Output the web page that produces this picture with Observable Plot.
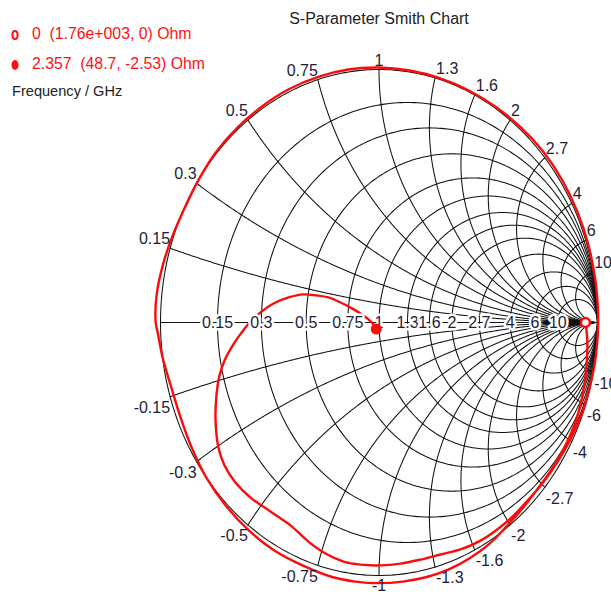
<!DOCTYPE html>
<html>
<head>
<meta charset="utf-8">
<script src="https://cdn.jsdelivr.net/npm/d3@7"></script>
<script src="https://cdn.jsdelivr.net/npm/@observablehq/plot@0.6"></script>
<style>
  html, body { margin: 0; padding: 0; background: #fff; overflow: hidden; }
  #wrap { position: relative; width: 611px; height: 595px; overflow: hidden; }
  #chart { position: absolute; left: 0; top: 0; }
  #title { position: absolute; left: 229px; width: 300px; top: 10px; line-height: 20px;
           text-align: center; font: 16px "Liberation Sans", Arial, sans-serif; color: #222; }
  .leg { position: absolute; left: 10px; height: 20px; line-height: 20px; white-space: pre;
         font: 15.8px "Liberation Sans", Arial, sans-serif; color: #ff1010; }
  .leg svg { position: absolute; left: 0; top: 4px; }
  .leg span { position: absolute; left: 22px; top: 0; }
  #note { position: absolute; left: 12px; top: 83px; line-height: 20px;
          font: 14.6px "Liberation Sans", Arial, sans-serif; color: #222; }
</style>
</head>
<body>
<div id="wrap">
  <div id="chart"></div>
  <div id="title"></div>
  <div class="leg" id="leg0" style="top:25px"></div>
  <div class="leg" id="leg1" style="top:55px"></div>
  <div id="note"></div>
</div>
<script>
// ---------- data ----------
const titleText = "S-Parameter Smith Chart";
const noteText = "Frequency / GHz";
const Z0 = 50;

// grid values (resistance circles and reactance arcs share these ticks)
const gridValues = [0.15, 0.3, 0.5, 0.75, 1, 1.3, 1.6, 2, 2.7, 4, 6, 10];
const gridLabels = ["0.15", "0.3", "0.5", "0.75", "1", "1.3", "1.6", "2", "2.7", "4", "6", "10"];

// markers: frequency (GHz), impedance (Ohm)
const markerFreq = ["0", "2.357"];
const markerR = [1760, 48.7];
const markerX = [0, -2.53];
const markerText = ["0  (1.76e+003, 0) Ohm", "2.357  (48.7, -2.53) Ohm"];

// S11 trace, reflection coefficient (real, imaginary)
const traceRe = [0.945, 0.953, 0.950, 0.932, 0.909, 0.875, 0.833, 0.783, 0.717, 0.659,
  0.585, 0.505, 0.415, 0.317, 0.214, 0.108, 0.000, -0.108, -0.214, -0.350,
  -0.479, -0.597, -0.700, -0.788, -0.857, -0.911, -0.951, -0.990, -1.014, -1.022,
  -1.018, -0.989, -0.944, -0.889, -0.829, -0.747, -0.647, -0.534, -0.411, -0.278,
  -0.141, 0.000, 0.140, 0.277, 0.409, 0.533, 0.648, 0.751, 0.837, 0.906,
  0.957, 0.989, 1.001, 1.003, 0.998, 0.985, 0.959, 0.923, 0.874, 0.817,
  0.752, 0.680, 0.616, 0.547, 0.465, 0.373, 0.281, 0.190, 0.098, 0.007,
  -0.085, -0.162, -0.245, -0.323, -0.405, -0.497, -0.588, -0.657, -0.707, -0.735,
  -0.748, -0.744, -0.730, -0.707, -0.670, -0.629, -0.588, -0.538, -0.483, -0.414,
  -0.346, -0.286, -0.231, -0.176, -0.130, -0.085, -0.048, -0.025, -0.0125];
const traceIm = [0, -0.067, -0.168, -0.285, -0.367, -0.446, -0.520, -0.590, -0.668, -0.732,
  -0.805, -0.875, -0.932, -0.977, -1.007, -1.024, -1.030, -1.024, -1.006, -0.960,
  -0.901, -0.821, -0.725, -0.616, -0.495, -0.368, -0.255, -0.139, -0.035, 0,
  0.107, 0.228, 0.344, 0.453, 0.559, 0.672, 0.771, 0.855, 0.923, 0.971,
  1.000, 1.008, 0.996, 0.966, 0.918, 0.853, 0.772, 0.676, 0.565, 0.442,
  0.311, 0.174, 0.070, 0, -0.087, -0.174, -0.275, -0.373, -0.465, -0.551,
  -0.631, -0.704, -0.763, -0.814, -0.862, -0.897, -0.917, -0.937, -0.953, -0.960,
  -0.957, -0.945, -0.913, -0.866, -0.802, -0.747, -0.692, -0.632, -0.565, -0.494,
  -0.387, -0.289, -0.209, -0.150, -0.091, -0.040, 0.004, 0.043, 0.075, 0.099,
  0.111, 0.107, 0.099, 0.079, 0.059, 0.036, 0.012, -0.008, -0.026];

// ---------- geometry helpers ----------
function gamma(r, x) { // normalized impedance -> reflection coefficient
  const d = (r + 1) ** 2 + x * x;
  return {re: (r * r - 1 + x * x) / d, im: 2 * x / d};
}

const grid = [];
function addResistance(r, id) {
  const c = r / (1 + r), R = 1 / (1 + r);
  for (let i = 0; i <= 360; i++) {
    const t = i * Math.PI / 180;
    grid.push({id, re: c + R * Math.cos(t), im: R * Math.sin(t)});
  }
}
addResistance(0, "r0");
gridValues.forEach(r => addResistance(r, "r" + r));
gridValues.forEach(x => [x, -x].forEach(xx => {
  const N = 500;
  for (let i = 0; i <= N; i++) {
    const u = i / N;
    const g = u < 1 ? gamma(u / (1 - u), xx) : {re: 1, im: 0};
    grid.push({id: "x" + xx, re: g.re, im: g.im});
  }
}));
grid.push({id: "axis", re: -1, im: 0}, {id: "axis", re: 1, im: 0});

const rLabelData = gridValues.map((r, i) => ({re: (r - 1) / (r + 1), im: 0, label: gridLabels[i]}));
const xLabelData = gridValues.flatMap((x, i) => [
  {x: x, ...gamma(0, x), label: gridLabels[i]},
  {x: -x, ...gamma(0, -x), label: "-" + gridLabels[i]}
]);

const trace = traceRe.map((re, i) => ({re, im: traceIm[i]}));
const markers = markerR.map((R, i) => {
  const g = gamma(R / Z0, markerX[i] / Z0);
  return {re: g.re, im: g.im, i};
});

const labelColor = "#1d1d3a";
const font = "Liberation Sans, Arial, sans-serif";
const lab = (data, opts) => Plot.text(data, {x: "re", y: "im", text: "label", fontSize: 16,
  fontFamily: font, fill: labelColor, ...opts});

const chart = Plot.plot({
  width: 611,
  height: 595,
  marginLeft: 160,
  marginRight: 14,
  marginTop: 69,
  marginBottom: 20,
  x: {domain: [-1, 1], axis: null},
  y: {domain: [-1, 1], axis: null},
  style: {background: "white", overflow: "hidden"},
  marks: [
    Plot.line(grid, {x: "re", y: "im", z: "id", stroke: "#111", strokeWidth: 1.05, curve: "linear"}),
    Plot.line(trace, {x: "re", y: "im", stroke: "#ff0a0a", strokeWidth: 2.4, curve: "catmull-rom"}),
    // resistance labels on the real axis
    lab(rLabelData, {textAnchor: "middle", lineAnchor: "middle", stroke: "white", strokeWidth: 5}),
    // reactance labels around the rim
    lab(xLabelData.filter(d => d.x > 0 && d.x < 1), {textAnchor: "end", lineAnchor: "bottom", dy: -4}),
    lab(xLabelData.filter(d => d.x === 1), {textAnchor: "middle", lineAnchor: "bottom", dy: -4}),
    lab(xLabelData.filter(d => d.x > 1), {textAnchor: "start", lineAnchor: "bottom", dy: -4, dx: 1}),
    lab(xLabelData.filter(d => d.x < 0 && d.x > -1), {textAnchor: "end", lineAnchor: "top", dy: 5}),
    lab(xLabelData.filter(d => d.x === -1), {textAnchor: "middle", lineAnchor: "top", dy: 4}),
    lab(xLabelData.filter(d => d.x < -1), {textAnchor: "start", lineAnchor: "top", dy: 5, dx: 1}),
    Plot.dot(markers.filter(d => d.i === 0), {x: "re", y: "im", r: 4.5, stroke: "#ff0a0a", fill: "white", strokeWidth: 2.5}),
    Plot.dot(markers.filter(d => d.i === 1), {x: "re", y: "im", r: 5.5, fill: "#ff0a0a", stroke: "none"})
  ]
});
document.getElementById("chart").appendChild(chart);

document.getElementById("title").textContent = titleText;
document.getElementById("note").textContent = noteText;
const icons = [
  '<svg width="12" height="14"><ellipse cx="5" cy="6" rx="2.6" ry="4" fill="white" stroke="#ff1010" stroke-width="2"/></svg>',
  '<svg width="12" height="14"><ellipse cx="5" cy="6" rx="3.5" ry="5" fill="#ff1010"/></svg>'
];
markerText.forEach((t, i) => {
  const el = document.getElementById("leg" + i);
  el.innerHTML = icons[i] + "<span></span>";
  el.querySelector("span").textContent = t;
});
</script>
</body>
</html>
